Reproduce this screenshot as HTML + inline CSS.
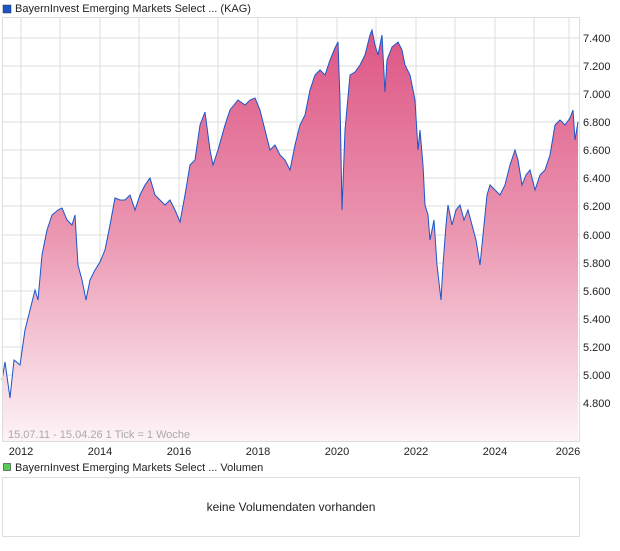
<!DOCTYPE html><html><head><style>
body{margin:0;background:#fff;font-family:"Liberation Sans",sans-serif;}
</style></head><body>
<svg width="620" height="546" xmlns="http://www.w3.org/2000/svg" font-family="Liberation Sans, sans-serif">
<defs><linearGradient id="g" x1="0" y1="30" x2="0" y2="441" gradientUnits="userSpaceOnUse">
<stop offset="0" stop-color="#dd5584"/><stop offset="0.5" stop-color="#eb97b2"/><stop offset="1" stop-color="#fdf3f6"/></linearGradient></defs>
<rect x="3" y="5" width="8" height="8" fill="#1a56c8" stroke="#333" stroke-width="0.5"/>
<text x="15" y="12" font-size="11" fill="#222">BayernInvest Emerging Markets Select ... (KAG)</text>
<g stroke="#ddd" stroke-width="1">
<line x1="21" y1="17" x2="21" y2="441"/><line x1="60" y1="17" x2="60" y2="441"/><line x1="100" y1="17" x2="100" y2="441"/><line x1="139" y1="17" x2="139" y2="441"/><line x1="179" y1="17" x2="179" y2="441"/><line x1="218" y1="17" x2="218" y2="441"/><line x1="258" y1="17" x2="258" y2="441"/><line x1="297" y1="17" x2="297" y2="441"/><line x1="337" y1="17" x2="337" y2="441"/><line x1="376" y1="17" x2="376" y2="441"/><line x1="416" y1="17" x2="416" y2="441"/><line x1="455" y1="17" x2="455" y2="441"/><line x1="495" y1="17" x2="495" y2="441"/><line x1="534" y1="17" x2="534" y2="441"/><line x1="569" y1="17" x2="569" y2="441"/>
<line x1="2" y1="38" x2="580" y2="38"/><line x1="2" y1="66" x2="580" y2="66"/><line x1="2" y1="94" x2="580" y2="94"/><line x1="2" y1="122" x2="580" y2="122"/><line x1="2" y1="150" x2="580" y2="150"/><line x1="2" y1="178" x2="580" y2="178"/><line x1="2" y1="206" x2="580" y2="206"/><line x1="2" y1="235" x2="580" y2="235"/><line x1="2" y1="263" x2="580" y2="263"/><line x1="2" y1="291" x2="580" y2="291"/><line x1="2" y1="319" x2="580" y2="319"/><line x1="2" y1="347" x2="580" y2="347"/><line x1="2" y1="375" x2="580" y2="375"/><line x1="2" y1="403" x2="580" y2="403"/>
</g>
<path d="M2,441 L2,380 L5,362 L10,398 L14,360 L20,365 L25,330 L30,310 L35,290 L38,300 L42,255 L47,230 L52,215 L58,210 L62,208 L67,220 L72,225 L75,215 L78,265 L82,280 L86,300 L90,280 L95,270 L100,262 L105,250 L110,225 L115,198 L120,200 L125,200 L130,195 L135,210 L140,195 L145,185 L150,178 L155,195 L160,200 L165,205 L170,200 L175,210 L180,222 L185,195 L190,165 L195,160 L200,125 L205,112 L210,150 L213,165 L218,150 L225,125 L230,110 L238,100 L245,105 L250,100 L255,98 L260,110 L265,130 L270,150 L275,145 L280,155 L285,160 L290,170 L295,145 L300,125 L305,115 L310,90 L315,75 L320,70 L325,75 L330,60 L335,48 L338,42 L340,100 L342,210 L345,130 L350,75 L355,72 L360,65 L365,55 L370,35 L372,30 L375,45 L378,55 L382,35 L385,92 L387,60 L392,47 L398,42 L402,50 L405,65 L410,75 L415,100 L418,150 L420,130 L423,165 L425,205 L428,215 L430,240 L434,220 L437,265 L441,300 L443,265 L446,225 L448,205 L452,225 L456,210 L460,205 L464,220 L468,210 L472,225 L476,240 L480,265 L484,225 L487,195 L490,185 L495,190 L500,195 L505,185 L510,165 L515,150 L518,160 L522,185 L526,175 L530,170 L535,190 L540,175 L545,170 L550,155 L555,125 L560,120 L565,125 L570,118 L573,110 L575,140 L578,122 L578,441 Z" fill="url(#g)"/>
<path d="M2,380 L5,362 L10,398 L14,360 L20,365 L25,330 L30,310 L35,290 L38,300 L42,255 L47,230 L52,215 L58,210 L62,208 L67,220 L72,225 L75,215 L78,265 L82,280 L86,300 L90,280 L95,270 L100,262 L105,250 L110,225 L115,198 L120,200 L125,200 L130,195 L135,210 L140,195 L145,185 L150,178 L155,195 L160,200 L165,205 L170,200 L175,210 L180,222 L185,195 L190,165 L195,160 L200,125 L205,112 L210,150 L213,165 L218,150 L225,125 L230,110 L238,100 L245,105 L250,100 L255,98 L260,110 L265,130 L270,150 L275,145 L280,155 L285,160 L290,170 L295,145 L300,125 L305,115 L310,90 L315,75 L320,70 L325,75 L330,60 L335,48 L338,42 L340,100 L342,210 L345,130 L350,75 L355,72 L360,65 L365,55 L370,35 L372,30 L375,45 L378,55 L382,35 L385,92 L387,60 L392,47 L398,42 L402,50 L405,65 L410,75 L415,100 L418,150 L420,130 L423,165 L425,205 L428,215 L430,240 L434,220 L437,265 L441,300 L443,265 L446,225 L448,205 L452,225 L456,210 L460,205 L464,220 L468,210 L472,225 L476,240 L480,265 L484,225 L487,195 L490,185 L495,190 L500,195 L505,185 L510,165 L515,150 L518,160 L522,185 L526,175 L530,170 L535,190 L540,175 L545,170 L550,155 L555,125 L560,120 L565,125 L570,118 L573,110 L575,140 L578,122" fill="none" stroke="#1a56c8" stroke-width="1"/>
<rect x="2.5" y="17.5" width="577" height="424" fill="none" stroke="#ddd"/>
<g font-size="11" fill="#222">
<text x="583" y="42">7.400</text><text x="583" y="70">7.200</text><text x="583" y="98">7.000</text><text x="583" y="126">6.800</text><text x="583" y="154">6.600</text><text x="583" y="182">6.400</text><text x="583" y="210">6.200</text><text x="583" y="239">6.000</text><text x="583" y="267">5.800</text><text x="583" y="295">5.600</text><text x="583" y="323">5.400</text><text x="583" y="351">5.200</text><text x="583" y="379">5.000</text><text x="583" y="407">4.800</text>
</g>
<text x="8" y="438" font-size="11" fill="#aaa">15.07.11 - 15.04.26   1 Tick = 1 Woche</text>
<g font-size="11" fill="#222" text-anchor="middle">
<text x="21" y="455">2012</text><text x="100" y="455">2014</text><text x="179" y="455">2016</text><text x="258" y="455">2018</text><text x="337" y="455">2020</text><text x="416" y="455">2022</text><text x="495" y="455">2024</text><text x="568" y="455">2026</text>
</g>
<rect x="3.5" y="463.5" width="7" height="7" fill="#5c5" stroke="#333" stroke-width="0.6"/>
<text x="15" y="471" font-size="11" fill="#222">BayernInvest Emerging Markets Select ... Volumen</text>
<rect x="2.5" y="477.5" width="577" height="59" fill="none" stroke="#ddd"/>
<text x="291" y="511" font-size="12" fill="#222" text-anchor="middle">keine Volumendaten vorhanden</text>
</svg>
</body></html>
